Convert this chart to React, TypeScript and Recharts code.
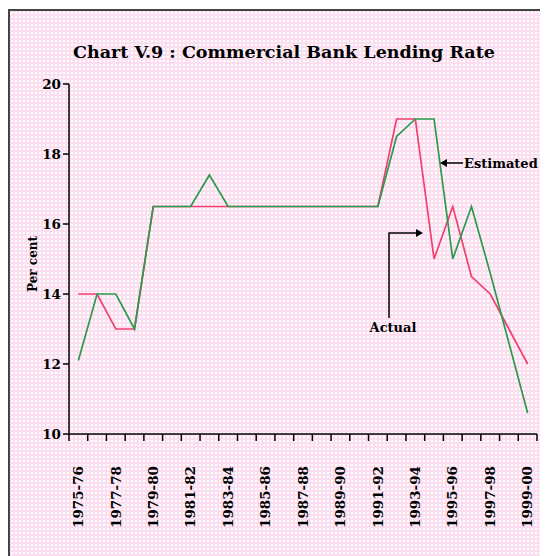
import React from 'react';
import { LineChart, Line, XAxis, YAxis } from 'recharts';

const years = [
  '1975-76', '1976-77', '1977-78', '1978-79', '1979-80', '1980-81', '1981-82',
  '1982-83', '1983-84', '1984-85', '1985-86', '1986-87', '1987-88', '1988-89',
  '1989-90', '1990-91', '1991-92', '1992-93', '1993-94', '1994-95', '1995-96',
  '1996-97', '1997-98', '1998-99', '1999-00',
];
const actual = [14, 14, 13, 13, 16.5, 16.5, 16.5, 16.5, 16.5, 16.5, 16.5, 16.5, 16.5, 16.5, 16.5, 16.5, 16.5, 19, 19, 15, 16.5, 14.5, 14, 13, 12];
const estimated = [12.1, 14, 14, 13, 16.5, 16.5, 16.5, 17.4, 16.5, 16.5, 16.5, 16.5, 16.5, 16.5, 16.5, 16.5, 16.5, 18.5, 19, 19, 15, 16.5, 14.6, 12.6, 10.6];
const yTicks = [10, 12, 14, 16, 18, 20];

const data = years.map((year, i) => ({ year, actual: actual[i], estimated: estimated[i] }));

const FONT = '"DejaVu Serif", "Liberation Serif", serif';
const W = 540;
const H = 548;
const MARGIN = { top: 76, right: 11, bottom: 22, left: 0 };
const Y_W = 61;
const HALF = (W - MARGIN.right - MARGIN.left - Y_W) / years.length / 2;

const YearTick = (props: any) => {
  const { x, y, payload } = props;
  const idx = payload.index ?? props.index;
  const axisY = y - 32;
  return (
    <g>
      <line x1={x - HALF} x2={x - HALF} y1={axisY} y2={axisY + 7} stroke="#000" strokeWidth={1.5} />
      {idx === years.length - 1 && (
        <line x1={x + HALF} x2={x + HALF} y1={axisY} y2={axisY + 7} stroke="#000" strokeWidth={1.5} />
      )}
      {idx % 2 === 0 && (
        <text
          transform={`translate(${x},${y}) rotate(-90)`}
          textAnchor="end"
          dy="0.35em"
          fontSize={13.5}
          fontWeight="bold"
          fontFamily={FONT}
          fill="#000"
        >
          {payload.value}
        </text>
      )}
    </g>
  );
};

export default function App() {
  return (
    <div
      style={{
        position: 'relative',
        width: W,
        height: H,
        boxSizing: 'border-box',
        borderTop: '2px solid #444',
        borderLeft: '2px solid #444',
        marginTop: 1,
        backgroundColor: '#fbdff0',
        backgroundImage: 'radial-gradient(#ffffff 1px, transparent 1.2px)',
        backgroundSize: '4px 4px',
      }}
    >
      <div style={{ position: 'absolute', left: -2, top: -3 }}>
        <LineChart width={W} height={H} data={data} margin={MARGIN}>
          <XAxis
            dataKey="year"
            interval={0}
            padding={{ left: HALF, right: HALF }}
            height={100}
            tickLine={false}
            tickSize={7}
            tickMargin={25}
            axisLine={{ stroke: '#000', strokeWidth: 1.5 }}
            tick={<YearTick />}
          />
          <YAxis
            domain={[10, 20]}
            ticks={yTicks}
            width={Y_W}
            tickSize={6}
            tickMargin={2}
            axisLine={{ stroke: '#000', strokeWidth: 1.5 }}
            tickLine={{ stroke: '#000', strokeWidth: 1.5 }}
            tick={{ fontSize: 13.5, fontWeight: 'bold', fontFamily: FONT, fill: '#000' }}
          />
          <Line type="linear" dataKey="actual" stroke="#f0406e" strokeWidth={1.7} dot={false} isAnimationActive={false} />
          <Line type="linear" dataKey="estimated" stroke="#2a9a4c" strokeWidth={1.7} dot={false} isAnimationActive={false} />
        </LineChart>
        <svg width={W} height={H} style={{ position: 'absolute', left: 0, top: 0, pointerEvents: 'none' }}>
          <text x={276} y={50} textAnchor="middle" fontSize={17.5} fontWeight="bold" fontFamily={FONT} fill="#000">
            Chart V.9 : Commercial Bank Lending Rate
          </text>
          <text
            transform="translate(25,256) rotate(-90)"
            textAnchor="middle"
            dy="0.35em"
            fontSize={12}
            fontWeight="bold"
            fontFamily={FONT}
            fill="#000"
          >
            Per cent
          </text>
          <line x1={438} x2={455} y1={155} y2={155} stroke="#000" strokeWidth={1.5} />
          <polygon points="432,155 439,151 439,159" fill="#000" />
          <text x={456} y={160} fontSize={13} fontWeight="bold" fontFamily={FONT} fill="#000">
            Estimated
          </text>
          <polyline points="381,310 381,225 409,225" fill="none" stroke="#000" strokeWidth={1.5} />
          <polygon points="415,225 408,221 408,229" fill="#000" />
          <text x={385} y={324} textAnchor="middle" fontSize={13} fontWeight="bold" fontFamily={FONT} fill="#000">
            Actual
          </text>
        </svg>
      </div>
    </div>
  );
}
